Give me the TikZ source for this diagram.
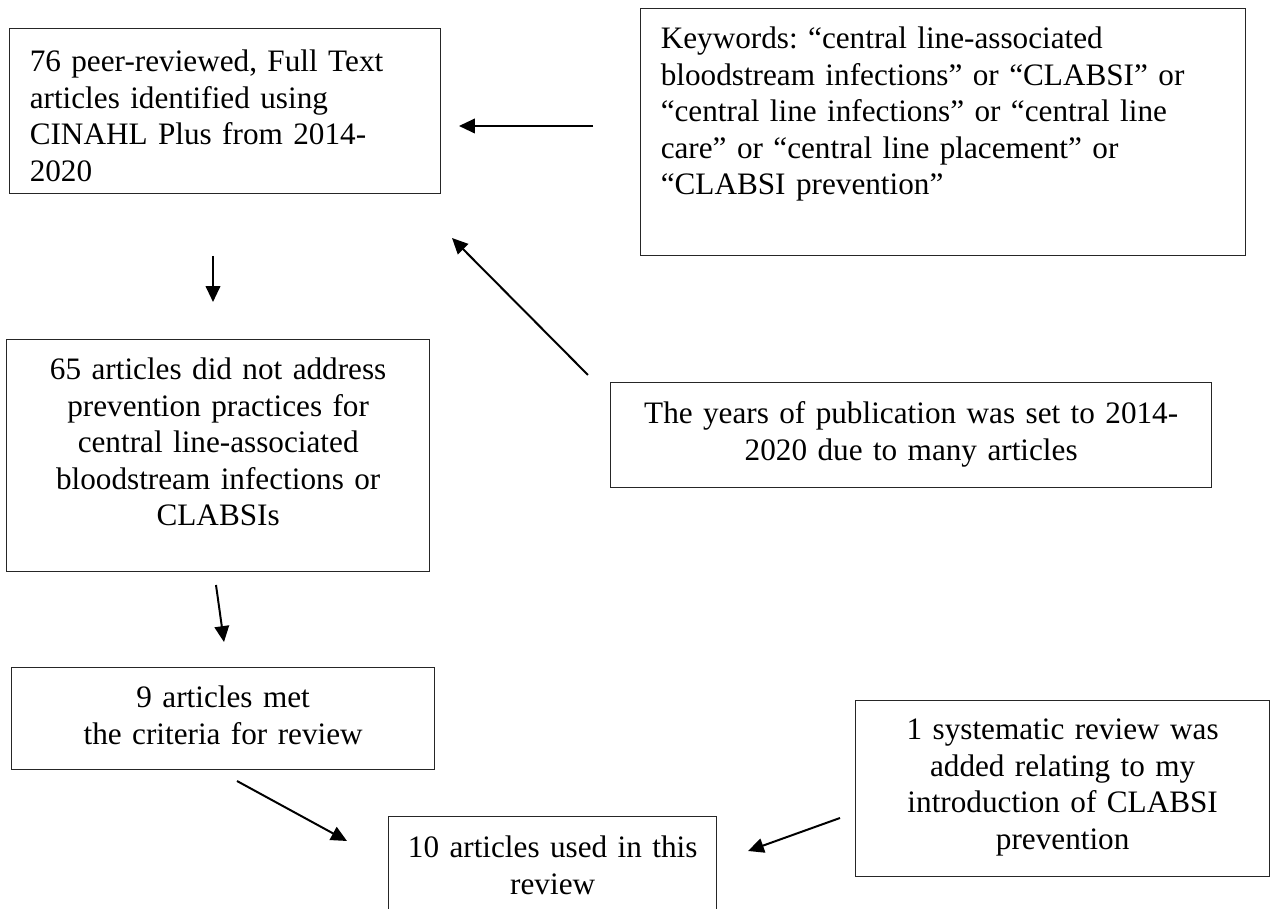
\documentclass[tikz,border=0pt]{standalone}
\usepackage{fontspec}
\setmainfont{Liberation Serif}
\usepackage{tikz}
\usetikzlibrary{arrows.meta,positioning}
\frenchspacing

\begin{document}
\begin{tikzpicture}[
  x=0.378pt, y=-0.378pt,
  box/.style={rectangle, draw=black!85, line width=0.5pt, anchor=north west, inner ysep=0pt, inner xsep=3pt, align=center, font=\fontsize{11.8pt}{13.8pt}\selectfont},
  leftbox/.style={box, inner xsep=7.6pt, align=left},
  arrow/.style={line width=0.75pt,->,>={Triangle[length=6pt,width=5.5pt]}}
]
\useasboundingbox (0,0) rectangle (1272,909);
\clip (0,0) rectangle (1272,909);

% Boxes
\node (search) [leftbox, text width=147.7pt, text height=16.3pt, text depth=46.1pt] at (9,28) {76 peer-reviewed, Full Text\\articles identified using\\CINAHL Plus from 2014-\\2020};
\node (keywords) [leftbox, text width=213.5pt, text height=15.1pt, text depth=78.2pt] at (640,8) {Keywords: “central line-associated\\bloodstream infections” or “CLABSI” or\\“central line infections” or “central line\\care” or “central line placement” or\\“CLABSI prevention”};
\node (excluded) [box, text width=153.9pt, text height=15.1pt, text depth=72.6pt] at (6,339) {65 articles did not address\\prevention practices for\\central line-associated\\bloodstream infections or\\CLABSIs};
\node (years) [box, text width=221.2pt, text height=15.5pt, text depth=24.2pt] at (610,382) {The years of publication was set to 2014-\\2020 due to many articles};
\node (included) [box, text width=153.9pt, text height=15.1pt, text depth=23.4pt] at (11,667) {9 articles met\\the criteria for review};
\node (added) [box, text width=150.5pt, text height=14.7pt, text depth=51.8pt] at (855,700) {1 systematic review was\\added relating to my\\introduction of CLABSI\\prevention};
\node (final) [box, text width=118pt, text height=15.5pt, text depth=27.6pt] at (388,816) {10 articles used in this\\review};

% Arrow ends
\coordinate (kwOut) at (593,126);
\coordinate (searchIn) at (459,126);
\coordinate (searchOut) at (213,256);
\coordinate (excludedIn) at (213,302);
\coordinate (yearsOut) at (588,375);
\coordinate (searchIn2) at (452,238);
\coordinate (excludedOut) at (216,585);
\coordinate (includedIn) at (224,642);
\coordinate (includedOut) at (237,781);
\coordinate (finalIn) at (347,841);
\coordinate (addedOut) at (840,818);
\coordinate (finalIn2) at (748,851);

% Connections
\draw [arrow] (kwOut) -- (searchIn);
\draw [arrow] (searchOut) -- (excludedIn);
\draw [arrow] (yearsOut) -- (searchIn2);
\draw [arrow] (excludedOut) -- (includedIn);
\draw [arrow] (includedOut) -- (finalIn);
\draw [arrow] (addedOut) -- (finalIn2);

\end{tikzpicture}
\end{document}
